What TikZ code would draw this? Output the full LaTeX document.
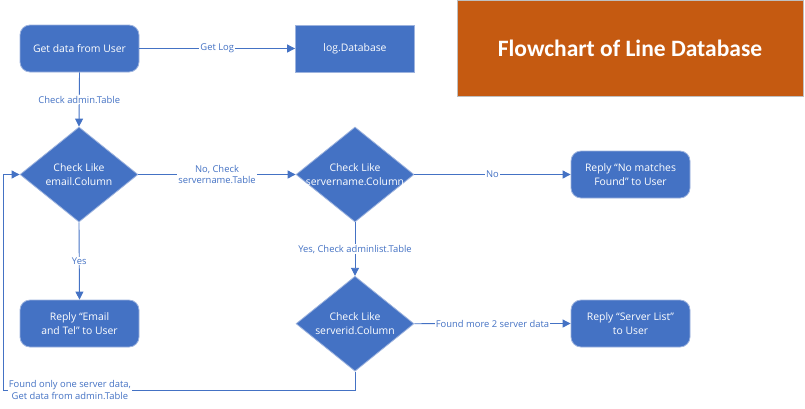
\documentclass[tikz,border=0pt]{standalone}
\usepackage{fontspec}
\setmainfont{Open Sans}
\newfontfamily\titlefont{Carlito}
\usetikzlibrary{shapes.geometric,arrows.meta}
\definecolor{fblue}{HTML}{4472C4}
\definecolor{fedge}{HTML}{9DB3DE}
\definecolor{forange}{HTML}{C55A11}
\tikzset{
  box/.style={rectangle, fill=fblue, draw=fedge, line width=0.8pt, minimum width=119pt, minimum height=47pt, text=white, font=\fontsize{10.4}{14.5}\selectfont, align=center, inner sep=0pt},
  rbox/.style={box, rounded corners=10pt},
  dia/.style={diamond, fill=fblue, draw=fedge, line width=0.8pt, minimum width=118pt, minimum height=95pt, inner sep=0pt, label={[text=white, font=\fontsize{10.4}{14.5}\selectfont, align=center]center:#1}},
  conn/.style={draw=fblue, line width=0.9pt, -{Triangle[length=8pt,width=8pt]}},
  lbl/.style={fill=white, text=fblue, font=\fontsize{9.4}{11.6}\selectfont, align=center, inner sep=1pt},
}
\begin{document}
\begin{tikzpicture}[x=1pt,y=-1pt]
\useasboundingbox (0,0) rectangle (805,408);
\node[rbox] (get) at (79.5,48.5) {Get data from User};
\node[box] (log) at (355,48.5) {log.Database};
\node[rectangle, fill=forange, draw=gray!50, line width=0.8pt, minimum width=346pt, minimum height=96pt, inner sep=0pt, text=white, font=\titlefont\bfseries\fontsize{23.5}{28}\selectfont] (title) at (630,48) {Flowchart of Line Database};
\node[dia={Check Like\\email.Column}] (email) at (79,174.5) {};
\node[dia={Check Like\\servername.Column}] (sname) at (355,174.5) {};
\node[rbox] (nomatch) at (630.5,174.5) {Reply “No matches\\Found” to User};
\node[rbox] (ereply) at (79.5,323.5) {Reply “Email\\and Tel” to User};
\node[dia={Check Like\\serverid.Column}] (sid) at (355,323.7) {};
\node[rbox] (slist) at (630.5,323.5) {Reply “Server List”\\to User};
\coordinate (lp) at (3,390);

\draw[conn] (get.east) -- node[lbl] {Get Log} (log.west);
\draw[conn] (get.south) -- node[lbl] {Check admin.Table} (email.north);
\draw[conn] (email.east) -- node[lbl] {No, Check\\servername.Table} (sname.west);
\draw[conn] (sname.east) -- node[lbl] {No} (nomatch.west);
\draw[conn] (email.south) -- node[lbl] {Yes} (ereply.north);
\draw[conn] (sname.south) -- node[lbl] {Yes, Check adminlist.Table} (sid.north);
\draw[conn] (sid.east) -- node[lbl] {Found more 2 server data} (slist.west);
\draw[conn] (sid.south) |- node[lbl, pos=0.905] {Found only one server data,\\Get data from admin.Table} (lp) |- (email.west);
\end{tikzpicture}
\end{document}
